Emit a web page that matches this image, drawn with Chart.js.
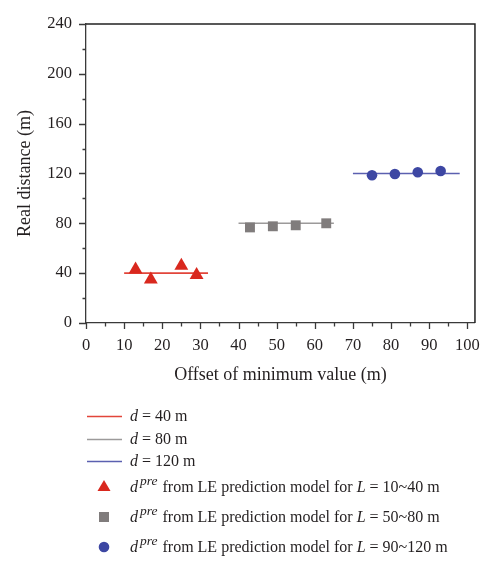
<!DOCTYPE html>
<html>
<head>
<meta charset="utf-8">
<script src="https://cdn.jsdelivr.net/npm/chart.js@4/dist/chart.umd.min.js"></script>
<style>
  html, body { margin: 0; padding: 0; background: #fff; }
  #wrap { width: 493px; height: 562px; }
</style>
</head>
<body>
<div id="wrap"><canvas id="chart" width="493" height="562"></canvas></div>
<script>
// Reference levels (true distance) and the x span of each horizontal line
const lineLevels = [40, 80, 120];
const lineStart = [10, 40, 70];
const lineEnd = [32, 65, 98];
const lineLabels = ["40", "80", "120"];

// Predicted points for each group
const redX = [13, 17, 25, 29];
const redY = [43, 35, 46, 38.5];
const grayX = [43, 49, 55, 63];
const grayY = [76.7, 77.6, 78.4, 80];
const blueX = [75, 81, 87, 93];
const blueY = [118.5, 119.5, 121, 122];
const rangeLabels = ["10~40", "50~80", "90~120"];

// Axis ticks
const xTicks = [0, 10, 20, 30, 40, 50, 60, 70, 80, 90, 100];
const yTicks = [0, 40, 80, 120, 160, 200, 240];

const RED = "#d9281e", RED_LINE = "#e2453a";
const GRAY = "#807c7c", GRAY_LINE = "#9c9a9a";
const BLUE = "#3d47a3", BLUE_LINE = "#5b60b0";
const FONT = "'Liberation Serif', 'DejaVu Serif', serif";
const INK = "#231f20";

function toPoints(xs, ys) {
  return xs.map((x, i) => ({ x: x, y: ys[i] }));
}

const lineColors = [RED_LINE, GRAY_LINE, BLUE_LINE];

const datasets = [
  { label: "red", data: toPoints(redX, redY), pointStyle: "triangle", pointRadius: 8,
    backgroundColor: RED, borderWidth: 0, pointBorderWidth: 0 },
  { label: "gray", data: toPoints(grayX, grayY), pointStyle: "rect", pointRadius: 7,
    backgroundColor: GRAY, borderWidth: 0, pointBorderWidth: 0 },
  { label: "blue", data: toPoints(blueX, blueY), pointStyle: "circle", pointRadius: 5.3,
    backgroundColor: BLUE, borderWidth: 0, pointBorderWidth: 0 }
];
lineLevels.forEach((lv, i) => {
  datasets.push({
    label: "d" + lv,
    data: [{ x: lineStart[i], y: lv }, { x: lineEnd[i], y: lv }],
    showLine: true, borderColor: lineColors[i], borderWidth: 1.6,
    pointRadius: 0, pointHoverRadius: 0
  });
});

// minor ticks + frame
const framePlugin = {
  id: "frame",
  afterDraw(chart) {
    const ctx = chart.ctx, a = chart.chartArea;
    const xs = chart.scales.x, ys = chart.scales.y;
    ctx.save();
    ctx.strokeStyle = "#3a3a3a";
    ctx.lineWidth = 1.3;
    ctx.beginPath();
    for (let v = 0; v <= 100; v += 5) {
      const px = Math.round(xs.getPixelForValue(v)) + 0.5;
      const len = v % 10 === 0 ? 6 : 3.5;
      ctx.moveTo(px, a.bottom);
      ctx.lineTo(px, a.bottom + len);
    }
    for (let v = 0; v <= 240; v += 20) {
      const py = Math.round(ys.getPixelForValue(v)) + 0.5;
      const len = v % 40 === 0 ? 7 : 3.5;
      ctx.moveTo(a.left, py);
      ctx.lineTo(a.left - len, py);
    }
    ctx.stroke();
    ctx.strokeStyle = "#222";
    ctx.lineWidth = 1.5;
    ctx.beginPath();
    ctx.moveTo(a.left, a.top);
    ctx.lineTo(a.right, a.top);
    ctx.lineTo(a.right, a.bottom);
    ctx.stroke();
    ctx.restore();
  }
};

function drawRich(ctx, x, y, parts) {
  let cx = x;
  parts.forEach(p => {
    const size = p.sup ? 13.5 : 16;
    ctx.font = (p.italic ? "italic " : "") + size + "px " + FONT;
    ctx.fillText(p.t, cx, p.sup ? y - 7.5 : y);
    cx += ctx.measureText(p.t).width + (p.gap || 0);
  });
}

const legendPlugin = {
  id: "customLegend",
  afterDraw(chart) {
    const ctx = chart.ctx;
    ctx.save();
    ctx.fillStyle = INK;
    ctx.textBaseline = "alphabetic";
    const lineRows = [416, 439, 461];
    lineLevels.forEach((lv, i) => {
      const y = lineRows[i];
      ctx.strokeStyle = lineColors[i];
      ctx.lineWidth = 1.4;
      ctx.beginPath();
      ctx.moveTo(87, y + 0.5);
      ctx.lineTo(122, y + 0.5);
      ctx.stroke();
      ctx.fillStyle = INK;
      drawRich(ctx, 130, y + 5, [
        { t: "d", italic: true },
        { t: " = " + lineLabels[i] + " m" }
      ]);
    });
    const mRows = [487, 517, 547];
    // triangle
    ctx.fillStyle = RED;
    ctx.beginPath();
    ctx.moveTo(104, mRows[0] - 7);
    ctx.lineTo(110.5, mRows[0] + 4);
    ctx.lineTo(97.5, mRows[0] + 4);
    ctx.closePath();
    ctx.fill();
    ctx.fillStyle = GRAY;
    ctx.fillRect(99, mRows[1] - 5, 10, 10);
    ctx.fillStyle = BLUE;
    ctx.beginPath();
    ctx.arc(104, mRows[2], 5.3, 0, Math.PI * 2);
    ctx.fill();
    ctx.fillStyle = INK;
    rangeLabels.forEach((r, i) => {
      drawRich(ctx, 130, mRows[i] + 5, [
        { t: "d", italic: true, gap: 2 },
        { t: "pre", italic: true, sup: true, gap: 1 },
        { t: " from LE prediction model for " },
        { t: "L", italic: true },
        { t: " = " + r + " m" }
      ]);
    });
    ctx.restore();
  }
};

new Chart(document.getElementById("chart"), {
  type: "scatter",
  data: { datasets: datasets },
  options: {
    responsive: false,
    animation: false,
    events: [],
    layout: { padding: { top: 7, right: 15, left: 0, bottom: 169 } },
    plugins: { legend: { display: false }, tooltip: { enabled: false } },
    scales: {
      x: {
        type: "linear", min: 0, max: 102,
        afterBuildTicks: s => { s.ticks = xTicks.map(v => ({ value: v })); },
        afterFit: s => { s.height = 70; },
        grid: { display: false, drawTicks: false },
        border: { display: true, color: "#3a3a3a", width: 1.3 },
        ticks: { padding: 13, color: INK, font: { family: FONT, size: 16.5 },
                 maxRotation: 0, autoSkip: false },
        title: { display: true, text: "Offset of minimum value (m)", color: INK,
                 font: { family: FONT, size: 18 }, padding: { top: 0, bottom: 7 } }
      },
      y: {
        type: "linear", min: 0, max: 240,
        afterBuildTicks: s => { s.ticks = yTicks.map(v => ({ value: v })); },
        afterFit: s => { s.width = 86; },
        grid: { display: false, drawTicks: false },
        border: { display: true, color: "#3a3a3a", width: 1.3 },
        ticks: { padding: 14, color: INK, font: { family: FONT, size: 16.5 }, autoSkip: false },
        title: { display: true, text: "Real distance (m)", color: INK,
                 font: { family: FONT, size: 18 }, padding: { top: 14, bottom: 0 } }
      }
    }
  },
  plugins: [framePlugin, legendPlugin]
});
</script>
</body>
</html>
